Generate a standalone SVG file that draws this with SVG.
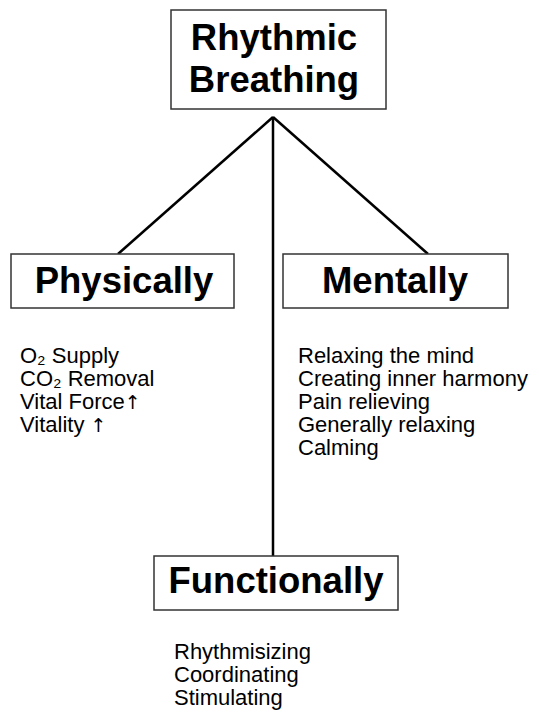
<svg xmlns="http://www.w3.org/2000/svg" width="539" height="717" viewBox="0 0 539 717">
<style>
.box{fill:#fff;stroke:#333;stroke-width:1.5}
.title{font-family:"Liberation Sans",Arial,sans-serif;font-weight:bold;font-size:36.5px;fill:#000;text-anchor:middle}
.item{font-family:"Liberation Sans","DejaVu Sans",Arial,sans-serif;font-size:22px;fill:#000}
.conn{stroke:#000;stroke-width:2.5;fill:none}
.arr{font-family:"DejaVu Sans",sans-serif;font-size:19px}
</style>
<rect width="539" height="717" fill="#fff"/>
<g id="connectors">
<line class="conn" x1="273" y1="117" x2="118" y2="254"/>
<line class="conn" x1="273" y1="117" x2="428" y2="254"/>
<line class="conn" x1="273" y1="117" x2="273" y2="556"/>
</g>
<g id="rhythmic-breathing">
<rect class="box" x="171" y="10" width="215" height="99"/>
<text class="title" x="274" y="50">Rhythmic</text>
<text class="title" x="274" y="92">Breathing</text>
</g>
<g id="physically">
<rect class="box" x="11" y="254" width="223" height="54"/>
<text class="title" x="124" y="293">Physically</text>
<text class="item" x="20" y="363">O₂ Supply</text>
<text class="item" x="20" y="386">CO₂ Removal</text>
<text class="item" x="20" y="409">Vital Force<tspan class="arr">↑</tspan></text>
<text class="item" x="20" y="432">Vitality <tspan class="arr">↑</tspan></text>
</g>
<g id="mentally">
<rect class="box" x="283" y="254" width="225" height="54"/>
<text class="title" x="395" y="293">Mentally</text>
<text class="item" x="298" y="363">Relaxing the mind</text>
<text class="item" x="298" y="386">Creating inner harmony</text>
<text class="item" x="298" y="409">Pain relieving</text>
<text class="item" x="298" y="432">Generally relaxing</text>
<text class="item" x="298" y="455">Calming</text>
</g>
<g id="functionally">
<rect class="box" x="154" y="556" width="244" height="54"/>
<text class="title" x="276" y="593">Functionally</text>
<text class="item" x="174" y="659">Rhythmisizing</text>
<text class="item" x="174" y="682">Coordinating</text>
<text class="item" x="174" y="705">Stimulating</text>
</g>
</svg>
